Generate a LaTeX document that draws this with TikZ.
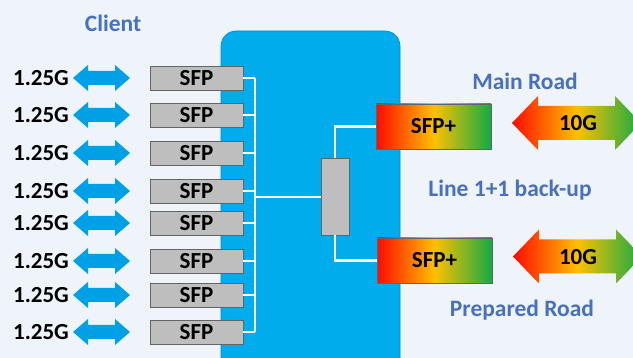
\documentclass[tikz,border=0pt]{standalone}
\usepackage{fontspec}
\setmainfont{Carlito}
\usetikzlibrary{calc}

\definecolor{bgcol}{RGB}{238,244,250}
\definecolor{boxblue}{RGB}{0,172,236}
\definecolor{boxedge}{RGB}{0,140,200}
\definecolor{arrblue}{RGB}{0,160,230}
\definecolor{sfpgray}{RGB}{190,190,190}
\definecolor{sfpedge}{RGB}{100,100,100}
\definecolor{txtblue}{RGB}{72,112,192}
\definecolor{gred}{RGB}{255,10,0}
\definecolor{gyel}{RGB}{255,192,0}
\definecolor{ggreen}{RGB}{20,170,70}

% double-headed block arrow: style, x1, x2, y, half head, half shaft, head length
\newcommand{\DblArrow}[7]{%
  \path[#1] (#2,#4) -- (#2+#7,#4-#5) -- (#2+#7,#4-#6) -- (#3-#7,#4-#6)
    -- (#3-#7,#4-#5) -- (#3,#4) -- (#3-#7,#4+#5) -- (#3-#7,#4+#6)
    -- (#2+#7,#4+#6) -- (#2+#7,#4+#5) -- cycle;}

\tikzset{
  bigtext/.style={font=\fontsize{23}{25}\selectfont\bfseries, text=black},
  bluetext/.style={font=\fontsize{23.5}{25}\selectfont\bfseries, text=txtblue},
  sfpbox/.style={draw=sfpedge, line width=0.8pt, fill=sfpgray,
    minimum width=93pt, minimum height=24pt, inner sep=0pt, bigtext},
  sfpplus/.style={draw=sfpedge, line width=0.8pt, left color=gred,
    right color=ggreen, middle color=gyel,
    minimum width=115pt, minimum height=45pt, inner sep=0pt, bigtext},
  wire/.style={draw=white, line width=2.6pt},
  rate/.style={bigtext, anchor=center},
  bluearr/.style={fill=arrblue},
  bigarr/.style={left color=gred, right color=ggreen, middle color=gyel},
}

\begin{document}
\begin{tikzpicture}[x=1pt, y=-1pt]
  \useasboundingbox (0,0) rectangle (633,358);
  \fill[bgcol] (0,0) rectangle (633,358);
  \clip (0,0) rectangle (633,358);

  % main chassis
  \draw[fill=boxblue, draw=boxedge, line width=0.6pt, rounded corners=15pt]
    (221,31) rectangle (400,380);

  \node[bluetext] (client) at (113,23) {Client};

  % client ports
  \foreach \i/\y in {1/78, 2/115, 3/153, 4/191, 5/223, 6/261, 7/295, 8/332} {
    \node[rate] (l\i) at (41,\y) {1.25G};
    \DblArrow{bluearr}{73}{130}{\y}{13}{7}{15}
    \node[sfpbox] (s\i) at (196.5,\y) {SFP};
  }

  % selector block and 10G modules
  \node[draw=sfpedge, line width=0.8pt, fill=sfpgray, minimum width=28pt,
    minimum height=77pt, inner sep=0pt] (sw) at (335,196.5) {};
  \node[sfpplus] (p1) at (433.5,126.5) {SFP+};
  \node[sfpplus] (p2) at (434.5,260.5) {SFP+};

  % internal wiring
  \coordinate (bus) at (255,0);
  \foreach \i in {1,...,8} {
    \draw[wire] (s\i.east) -- (s\i.east -| bus);
  }
  \draw[wire] (s1.east -| bus) -- (s8.east -| bus);
  \draw[wire] (sw.west |- 0,197) -- (bus |- 0,197);
  \draw[wire] (sw.north) |- (p1.west);
  \draw[wire] (sw.south) |- (p2.west);

  % line side
  \DblArrow{bigarr}{512}{641}{123}{27}{17}{26}
  \node[rate] (r1) at (578,123) {10G};
  \DblArrow{bigarr}{513}{642}{256.5}{27}{17}{26}
  \node[rate] (r2) at (578,257) {10G};

  \node[bluetext] (main) at (525,81) {Main Road};
  \node[bluetext] (backup) at (510,190) {Line 1+1 back-up};
  \node[bluetext] (prep) at (522,310) {Prepared Road};
\end{tikzpicture}
\end{document}
